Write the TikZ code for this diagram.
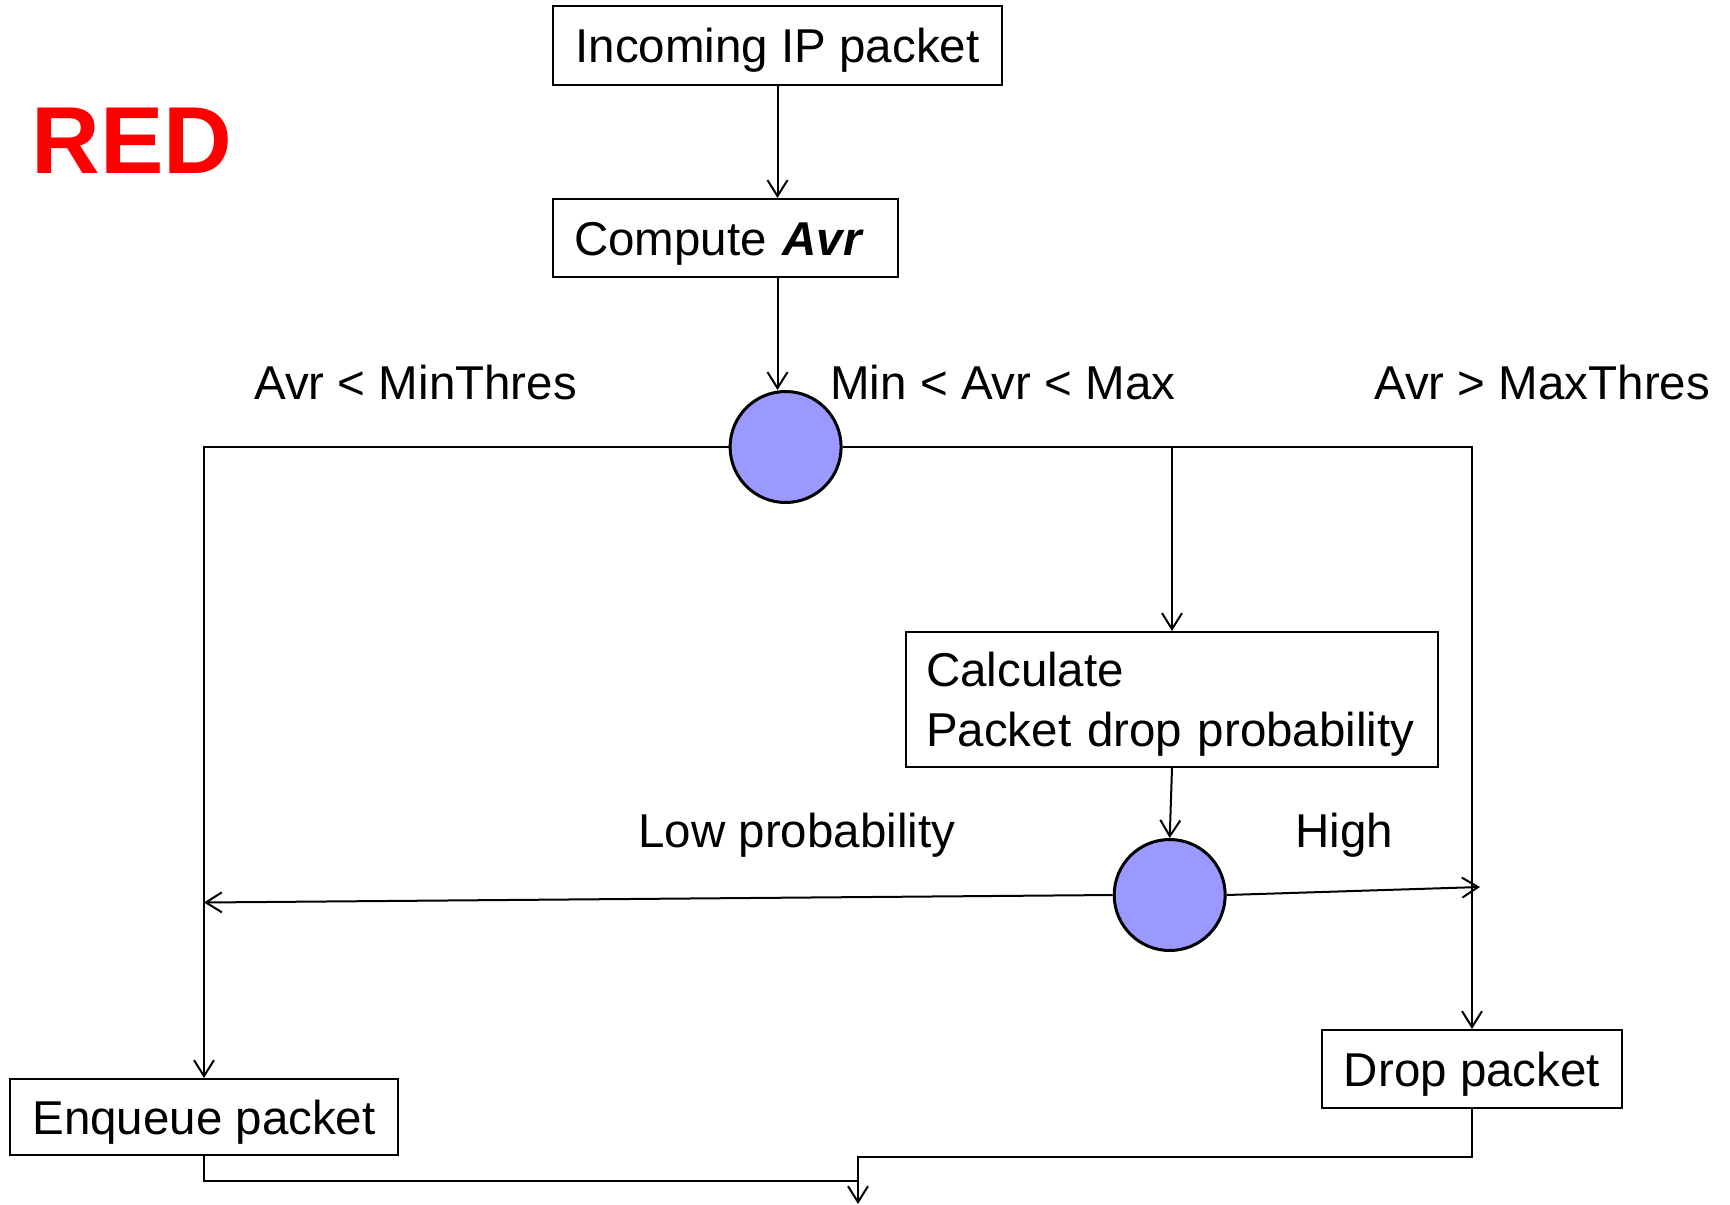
\documentclass[tikz,border=0pt]{standalone}
\usepackage{fontspec}
\setmainfont{Liberation Sans}
\usetikzlibrary{arrows.meta}
\definecolor{junc}{RGB}{153,153,255}
\definecolor{redc}{RGB}{255,0,0}
\begin{document}
\begin{tikzpicture}[x=0.5pt,y=-0.5pt,
  every node/.style={font=\fontsize{23.75}{29.8}\selectfont},
  box/.style={draw, line width=1pt, inner xsep=10.5pt, inner ysep=0pt, align=center, text depth=0pt, text height=17pt},
  junction/.style={circle, draw, line width=1.5pt, fill=junc, minimum size=55.5pt, inner sep=0pt},
  conn/.style={line width=1pt},
  arr/.style={conn, -{Straight Barb[length=8pt,width=10pt]}},
  lbl/.style={anchor=base west, inner sep=0pt}]
\useasboundingbox (0,0) rectangle (1730,1205);

\node[box, minimum width=224.5pt, minimum height=39.5pt] (inc) at (777.5,45.5) {Incoming IP packet};
\node[box, text width=151.5pt, align=left, minimum height=39pt] (comp) at (725.5,238) {Compute \textbf{\textit{Avr}}};
\node[junction] (c1) at (785.6,447) {};
\node[box, text width=246pt, inner xsep=10pt, align=left, minimum height=67.5pt, text height=17pt, text depth=29.8pt] (calc) at (1172,699.5) {Calculate\\Packet drop probability};
\node[junction] (c2) at (1169.7,895) {};
\node[box, minimum width=150pt, minimum height=39pt] (drop) at (1472,1069) {Drop packet};
\node[box, minimum width=194pt, minimum height=38pt] (enq) at (204,1117) {Enqueue packet};

\node[lbl] (l1) at (254,399) {Avr < MinThres};
\node[lbl] (l2) at (830,399) {Min < Avr < Max};
\node[lbl] (l3) at (1374,399) {Avr > MaxThres};
\node[lbl] (l4) at (638,847) {Low probability};
\node[lbl] (l5) at (1295,847) {High};
\node[lbl, text=redc, font=\bfseries\fontsize{47.6}{58}\selectfont] (title) at (31,173) {RED};

\coordinate (lowend) at (204,902.5);
\coordinate (highend) at (1480,887);
\coordinate (join) at (858,1181);
\coordinate (merge) at (858,1157);
\coordinate (out) at (858,1204);

\draw[arr] (inc.south) -- (inc.south |- comp.north);
\draw[arr] (comp.south -| inc.south) -- (inc.south |- c1.north);
\draw[arr] (c1.west) -| (enq.north);
\draw[arr] (c1.east) -| (drop.north);
\draw[arr] (c1.east -| calc.north) -- (calc.north);
\draw[arr] (calc.south) -- (c2.north);
\draw[arr] (c2.west) -- (lowend);
\draw[arr] (c2.east) -- (highend);
\draw[conn] (enq.south) |- (join);
\draw[arr] (drop.south) |- (merge) -- (out);
\end{tikzpicture}
\end{document}
